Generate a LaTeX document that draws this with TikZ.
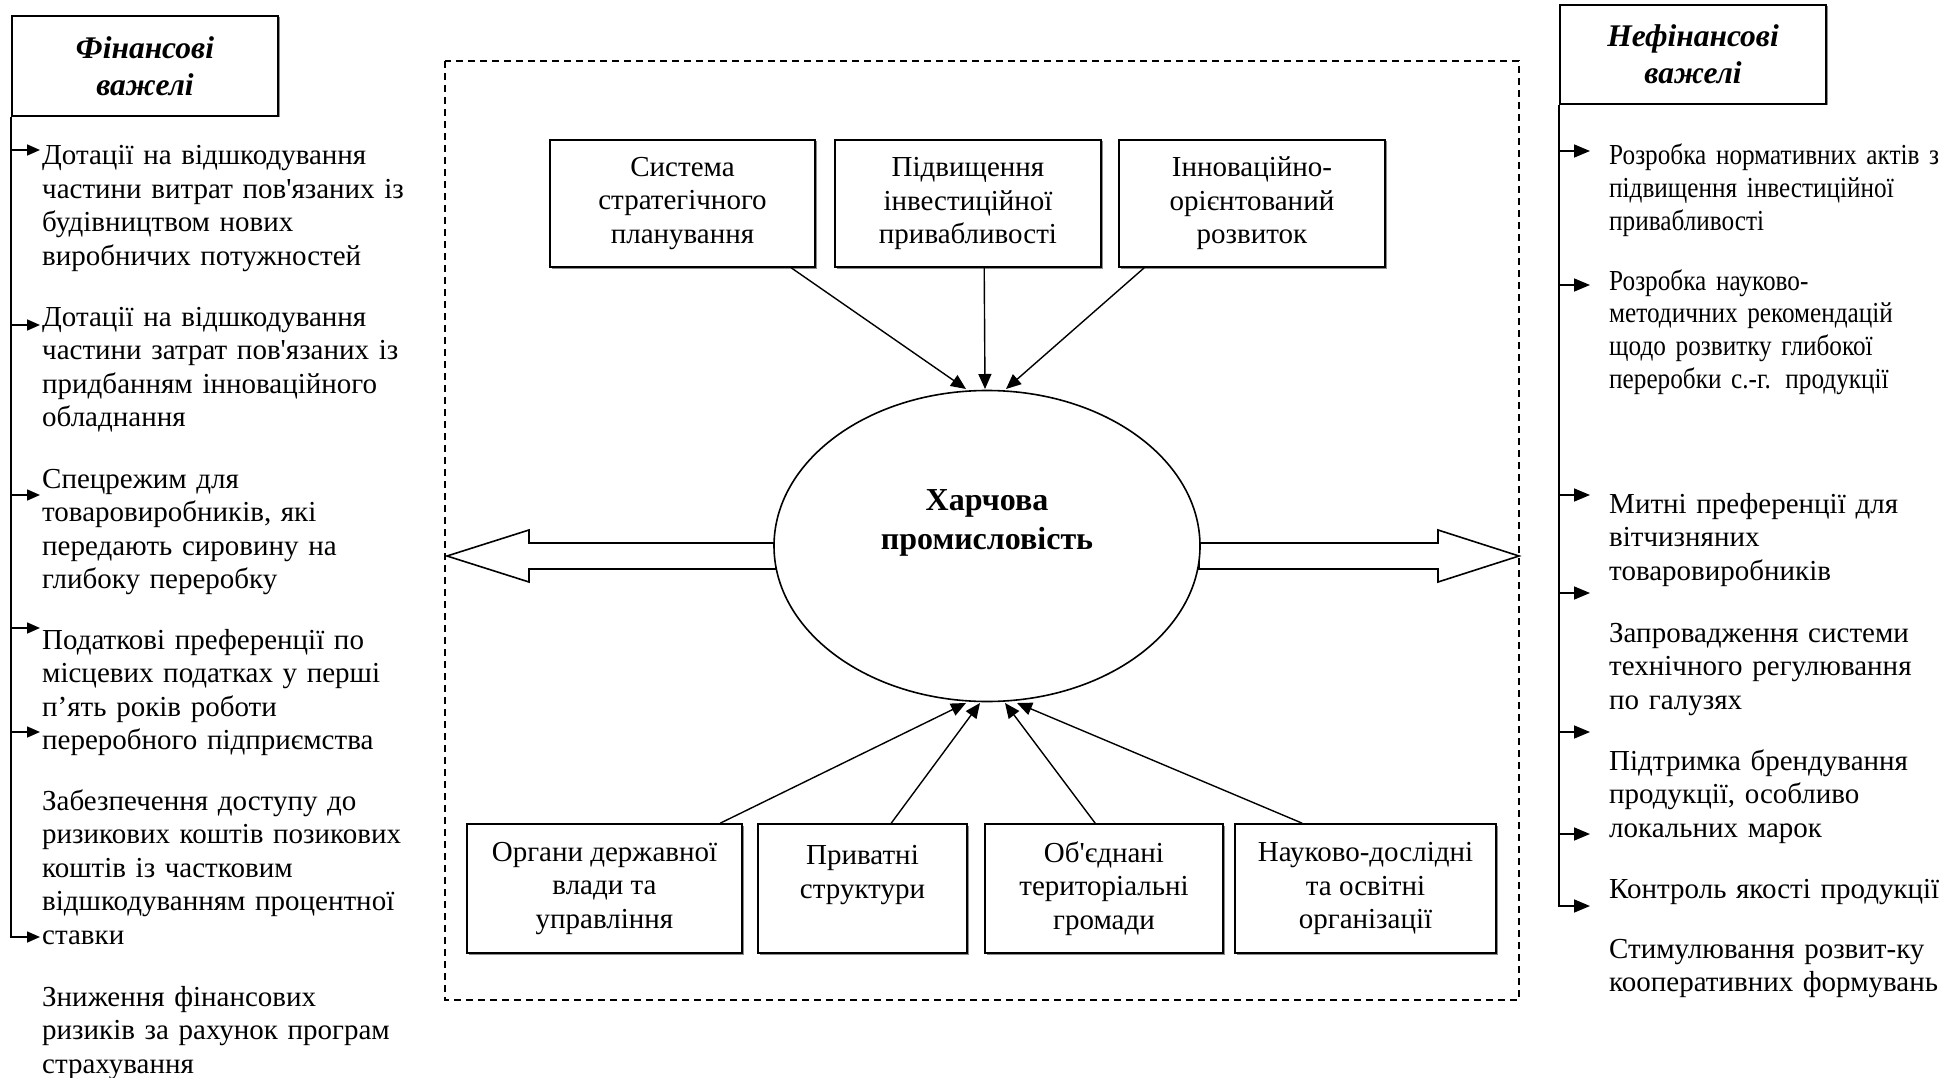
\documentclass[tikz,border=0pt]{standalone}
\usepackage{fontspec}
\setmainfont{Liberation Serif}
\newfontfamily\condfont{Liberation Serif}[FakeStretch=0.87,WordSpace=0.7]
\usetikzlibrary{shapes.geometric,arrows.meta,calc,shadows}
\begin{document}
\begin{tikzpicture}[x=1pt,y=-1pt,
  txt/.style={font=\fontsize{29}{33.5}\selectfont},
  shad/.style={drop shadow={shadow xshift=1.5pt,shadow yshift=-1.5pt,fill=black!45,opacity=1}},
  box/.style={draw,line width=1.6pt,fill=white,inner sep=0pt,align=center,txt,shad},
  hbox/.style={draw,line width=1.6pt,fill=white,inner sep=0pt,align=center,shad,
     minimum width=266pt,font=\bfseries\itshape\fontsize{31.5}{37}\selectfont},
  litem/.style={anchor=base west,inner sep=0pt,align=left,text width=404pt,txt},
  ritem/.style={anchor=base west,inner sep=0pt,align=left,text width=340pt,txt},
  citem/.style={anchor=base west,inner sep=0pt,align=left,text width=340pt,
     font=\condfont\fontsize{29}{32.8}\selectfont},
  carr/.style={-{Triangle[length=15pt,width=13pt]},line width=1.4pt},
  larr/.style={-{Triangle[length=13pt,width=11pt]},line width=1.6pt},
  rarr/.style={-{Triangle[length=16pt,width=13pt]},line width=1.6pt},
  barrow/.style={draw,line width=1.6pt,fill=white,line join=miter}
]
\useasboundingbox (0,0) rectangle (1946,1078);

% dashed frame
\draw[line width=1.5pt,dash pattern=on 7pt off 5pt] (445,61) rectangle (1519,1000);

% header boxes
\node[hbox,minimum height=100pt] (fin) at (145,66) {Фінансові\\важелі};
\node[hbox,minimum height=99pt] (nfin) at (1693,54.5) {Нефінансові\\важелі};

% left items
\node[litem] (l1) at (42,165) {Дотації на відшкодування\\частини витрат пов\textquotesingle{}язаних із\\будівництвом нових\\виробничих потужностей};
\node[litem] (l2) at (42,326) {Дотації на відшкодування\\частини затрат пов\textquotesingle{}язаних із\\придбанням інноваційного\\обладнання};
\node[litem] (l3) at (42,488) {Спецрежим для\\товаровиробників, які\\передають сировину на\\глибоку переробку};
\node[litem] (l4) at (42,649) {Податкові преференції по\\місцевих податках у перші\\п’ять років роботи\\переробного підприємства};
\node[litem] (l5) at (42,810) {Забезпечення доступу до\\ризикових коштів позикових\\коштів із частковим\\відшкодуванням процентної\\ставки};
\node[litem] (l6) at (42,1006) {Зниження фінансових\\ризиків за рахунок програм\\страхування};

% right items
\node[citem] (r1) at (1609,165) {Розробка нормативних актів з\\підвищення інвестиційної\\привабливості};
\node[citem] (r2) at (1609,290) {Розробка науково-\\методичних рекомендацій\\щодо розвитку глибокої\\переробки с.-г. продукції};
\node[ritem] (r3) at (1609,513) {Митні преференції для\\вітчизняних\\товаровиробників};
\node[ritem] (r4) at (1609,642) {Запровадження системи\\технічного регулювання\\по галузях};
\node[ritem] (r5) at (1609,770) {Підтримка брендування\\продукції, особливо\\локальних марок};
\node[ritem] (r6) at (1609,898) {Контроль якості продукції};
\node[ritem] (r7) at (1609,958) {Стимулювання розвит-ку\\кооперативних формувань};

% side arrows
\coordinate (la1) at (40,150);
\coordinate (la2) at (40,325);
\coordinate (la3) at (40,495);
\coordinate (la4) at (40,628);
\coordinate (la5) at (40,732);
\coordinate (la6) at (40,937);
\draw[larr] (fin.south west) -- (fin.south west |- la6) -- (la6);
\foreach \i in {1,...,5} \draw[larr] (fin.south west |- la\i) -- (la\i);

\coordinate (ra1) at (1590,151);
\coordinate (ra2) at (1590,285);
\coordinate (ra3) at (1590,495);
\coordinate (ra4) at (1590,593);
\coordinate (ra5) at (1590,732);
\coordinate (ra6) at (1590,834);
\coordinate (ra7) at (1590,906);
\draw[rarr] (nfin.south west) -- (nfin.south west |- ra7) -- (ra7);
\foreach \i in {1,...,6} \draw[rarr] (nfin.south west |- ra\i) -- (ra\i);

% block arrows
\draw[barrow] (447,556) -- (529,530) -- (529,543) -- (776,543) -- (776,569) -- (529,569) -- (529,582) -- cycle;
\draw[barrow] (1199,543) -- (1438,543) -- (1438,530) -- (1519,556) -- (1438,582) -- (1438,569) -- (1199,569) -- cycle;

% central ellipse
\node[ellipse,draw,line width=1.6pt,fill=white,minimum width=426pt,minimum height=311pt,inner sep=0pt] (food) at (987,546) {};
\node[align=center,inner sep=0pt,font=\bfseries\fontsize{32}{38.5}\selectfont] (foodtxt) at (987,523) {Харчова\\промисловість};

% top boxes
\node[box,minimum width=265pt,minimum height=127pt] (top1) at (682.5,203.5) {Система\\стратегічного\\планування};
\node[box,minimum width=266pt,minimum height=127pt] (top2) at (968,203.5) {Підвищення\\інвестиційної\\привабливості};
\node[box,minimum width=266pt,minimum height=127pt] (top3) at (1252,203.5) {Інноваційно-\\орієнтований\\розвиток};

% bottom boxes
\node[box,minimum width=275pt,minimum height=129pt] (bot1) at (604.5,888.5) {Органи державної\\влади та\\управління};
\node[box,minimum width=209pt,minimum height=129pt] (bot2) at (862.5,888.5) {Приватні\\структури\\~};
\node[box,minimum width=238pt,minimum height=129pt] (bot3) at (1104,888.5) {Об\textquotesingle{}єднані\\територіальні\\громади};
\node[box,minimum width=261pt,minimum height=129pt] (bot4) at (1365.5,888.5) {Науково-дослідні\\та освітні\\організації};

% central connectors
\coordinate (et1) at (966,389);
\coordinate (et2) at (985,389);
\coordinate (et3) at (1006,389);
\coordinate (eb1) at (966,703);
\coordinate (eb2) at (980,703);
\coordinate (eb3) at (1005,703);
\coordinate (eb4) at (1017,703);
\draw[carr] ($(top1.south west)+(242,0)$) -- (et1);
\draw[carr] ($(top2.south west)+(150,0)$) -- (et2);
\draw[carr] ($(top3.south west)+(26,0)$) -- (et3);
\draw[carr] ($(bot1.north west)+(254,0)$) -- (eb1);
\draw[carr] ($(bot2.north west)+(134,0)$) -- (eb2);
\draw[carr] ($(bot3.north west)+(111,0)$) -- (eb3);
\draw[carr] ($(bot4.north west)+(68,0)$) -- (eb4);
\end{tikzpicture}
\end{document}
